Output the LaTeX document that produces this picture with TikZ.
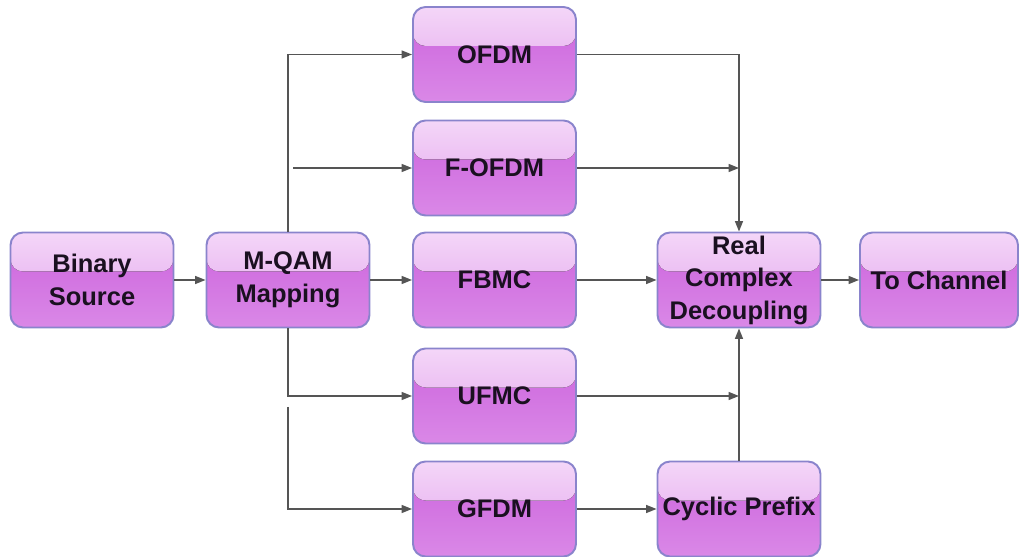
\documentclass[tikz,border=0pt]{standalone}
\usepackage{fontspec}
\setmainfont{Liberation Sans}
\usetikzlibrary{arrows.meta}

\definecolor{edgeblue}{HTML}{8A84CC}
\definecolor{glosstop}{HTML}{F4D6F8}
\definecolor{glossbot}{HTML}{E2A2EC}
\definecolor{bodytop}{HTML}{CB62DC}
\definecolor{bodybot}{HTML}{DA88E7}
\definecolor{wire}{HTML}{555555}
\definecolor{ink}{HTML}{1A1020}

\tikzset{
  block/.style={
    draw=edgeblue, line width=1.1pt, rounded corners=0.25cm,
    top color=bodytop, bottom color=bodybot,
    minimum width=3.26cm, minimum height=1.9cm, inner sep=0pt,
    align=center, text=ink,
    font=\fontsize{14.5}{18.5}\selectfont\bfseries,
    path picture={
      \fill[top color=glosstop, bottom color=glossbot]
        (path picture bounding box.north west) rectangle
        ([yshift=0.17cm]path picture bounding box.east);
    }
  },
  link/.style={draw=wire, line width=0.9pt, -{Triangle[length=2.1mm,width=1.6mm]}}
}

\begin{document}
\begin{tikzpicture}[x=0.02cm, y=-0.02cm]
  \useasboundingbox (0,0) rectangle (1019,557);

  % processing blocks
  \node[block] (bin)   at (92,280)    {Binary\\Source};
  \node[block] (mqam)  at (288,280)   {M-QAM\\Mapping};
  \node[block] (ofdm)  at (494.5,54.5) {OFDM};
  \node[block] (fofdm) at (494.5,168) {F-OFDM};
  \node[block] (fbmc)  at (494.5,280) {FBMC};
  \node[block] (ufmc)  at (494.5,396) {UFMC};
  \node[block] (gfdm)  at (494.5,509) {GFDM};
  \node[block] (rcd)   at (739,280)   {Real\\Complex\\Decoupling};
  \node[block, minimum width=3.16cm] (tch) at (939,280) {To Channel};
  \node[block] (cp)    at (739,509)   {Cyclic Prefix};

  % branch points on the distribution and combining buses
  \coordinate (fsplit) at (293,168);
  \coordinate (gsplit) at (288,407);
  \coordinate (fjoin) at (fofdm.east -| rcd.north);
  \coordinate (ujoin) at (ufmc.east -| rcd.north);

  % source side
  \draw[link] (bin) -- (mqam);
  \draw[link] (mqam.north) |- (ofdm.west);
  \draw[link] (fsplit) -- (fofdm.west);
  \draw[link] (mqam) -- (fbmc);
  \draw[link] (mqam.south) |- (ufmc.west);
  \draw[link] (gsplit) |- (gfdm.west);

  % combining side
  \draw[link] (ofdm.east) -| (rcd.north);
  \draw[link] (fofdm.east) -- (fjoin);
  \draw[link] (fbmc) -- (rcd);
  \draw[link] (ufmc.east) -- (ujoin);
  \draw[link] (gfdm) -- (cp);
  \draw[link] (cp) -- (rcd);
  \draw[link] (rcd) -- (tch);
\end{tikzpicture}
\end{document}
